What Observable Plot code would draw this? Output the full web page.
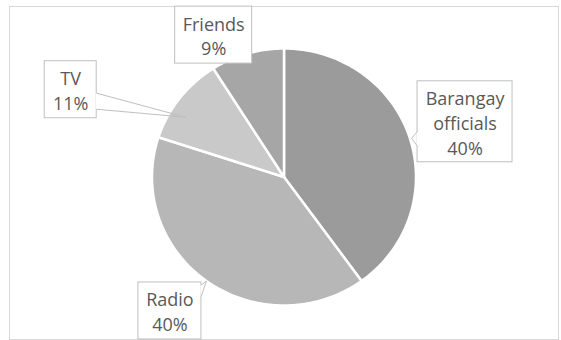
<!DOCTYPE html>
<html>
<head>
<meta charset="utf-8">
<script src="https://cdn.jsdelivr.net/npm/d3@7"></script>
<script src="https://cdn.jsdelivr.net/npm/@observablehq/plot@0.6"></script>
<style>
  html, body { margin: 0; padding: 0; background: #ffffff; }
  #chart svg { display: block; }
</style>
</head>
<body>
<div id="chart"></div>
<script>
// ---- data ----
const categories = ["Barangay officials", "Radio", "TV", "Friends"];
const percents = [40, 40, 11, 9];
const labelNames = ["Barangay\nofficials", "Radio", "TV", "Friends"];

// ---- style ----
const sliceColors = ["#9b9b9b", "#b7b7b7", "#c9c9c9", "#a6a6a6"];
const W = 561, H = 340;
const cx = 283.5, cy = 176.5;     // pie centre in pixels
const rx = 132, ry = 128.5;       // pie radii in pixels
const frameBox = {left: 9, top: 6, right: 558, bottom: 339};
// callout boxes, relative to the slice's edge point at its mid angle (pixels)
const callouts = {
  "Barangay officials": {box: [8, -56, 103, 25], tip: [2, 1], base: [[8, -6], [8, 9]]},
  "Radio":              {box: [-68, 1.5, -5, 58.5], tip: [0, 0], base: [[-5, 4], [-5, 15]]},
  "TV":                 {box: [-135, -37, -83, 20], tip: [6, 19], base: [[-83, -5], [-83, 11]]},
  "Friends":            {box: [-72, -47, 5, 10], tip: null, base: null}
};

const rows = categories.map((c, i) => ({category: c, value: percents[i], label: labelNames[i]}));
const arcs = d3.pie().sort(null).value(d => d.value)(rows);

// slice outlines
const slicePts = [];
for (const a of arcs) {
  const name = a.data.category;
  slicePts.push({category: name, x: 0, y: 0});
  const n = Math.max(2, Math.ceil((a.endAngle - a.startAngle) / (Math.PI / 180)));
  for (let k = 0; k <= n; k++) {
    const t = a.startAngle + (a.endAngle - a.startAngle) * k / n;
    slicePts.push({category: name, x: rx * Math.sin(t), y: -ry * Math.cos(t)});
  }
  slicePts.push({category: name, x: 0, y: 0});
}

// callouts
const boxes = [], pointer = [], gaps = [];
for (const a of arcs) {
  const name = a.data.category;
  const mid = (a.startAngle + a.endAngle) / 2;
  const ax = rx * Math.sin(mid), ay = -ry * Math.cos(mid);
  const c = callouts[name];
  boxes.push({
    category: name,
    x1: ax + c.box[0], y1: ay + c.box[1], x2: ax + c.box[2], y2: ay + c.box[3],
    tx: ax + (c.box[0] + c.box[2]) / 2, ty: ay + (c.box[1] + c.box[3]) / 2,
    text: `${a.data.label}\n${a.data.value}%`
  });
  if (c.tip) {
    gaps.push({x1: ax + c.base[0][0], y1: ay + c.base[0][1], x2: ax + c.base[1][0], y2: ay + c.base[1][1]});
    pointer.push({category: name, x: ax + c.base[0][0], y: ay + c.base[0][1]});
    pointer.push({category: name, x: ax + c.tip[0], y: ay + c.tip[1]});
    pointer.push({category: name, x: ax + c.base[1][0], y: ay + c.base[1][1]});
  }
}

const chart = Plot.plot({
  width: W,
  height: H,
  marginLeft: frameBox.left,
  marginRight: W - frameBox.right,
  marginTop: frameBox.top,
  marginBottom: H - frameBox.bottom,
  style: {fontFamily: "'Open Sans', sans-serif", background: "#ffffff"},
  x: {domain: [frameBox.left - cx, frameBox.right - cx], axis: null},
  y: {domain: [frameBox.top - cy, frameBox.bottom - cy], reverse: true, axis: null},
  color: {domain: categories, range: sliceColors},
  marks: [
    Plot.frame({stroke: "#d9d9d9"}),
    Plot.line(slicePts, {x: "x", y: "y", z: "category", fill: "category", stroke: "#ffffff", strokeWidth: 2.5, strokeLinejoin: "round", curve: "linear"}),
    Plot.rect(boxes, {x1: "x1", x2: "x2", y1: "y1", y2: "y2", fill: "#ffffff", stroke: "#bfbfbf", strokeWidth: 1}),
    Plot.link(gaps, {x1: "x1", y1: "y1", x2: "x2", y2: "y2", stroke: "#ffffff", strokeWidth: 2}),
    Plot.line(pointer, {x: "x", y: "y", z: "category", stroke: "#bfbfbf", strokeWidth: 1, curve: "linear"}),
    Plot.text(boxes, {x: "tx", y: "ty", text: "text", fontSize: 18, lineHeight: 1.38, fill: "#595959", textAnchor: "middle", lineAnchor: "middle"})
  ]
});
document.getElementById("chart").appendChild(chart);
</script>
</body>
</html>
